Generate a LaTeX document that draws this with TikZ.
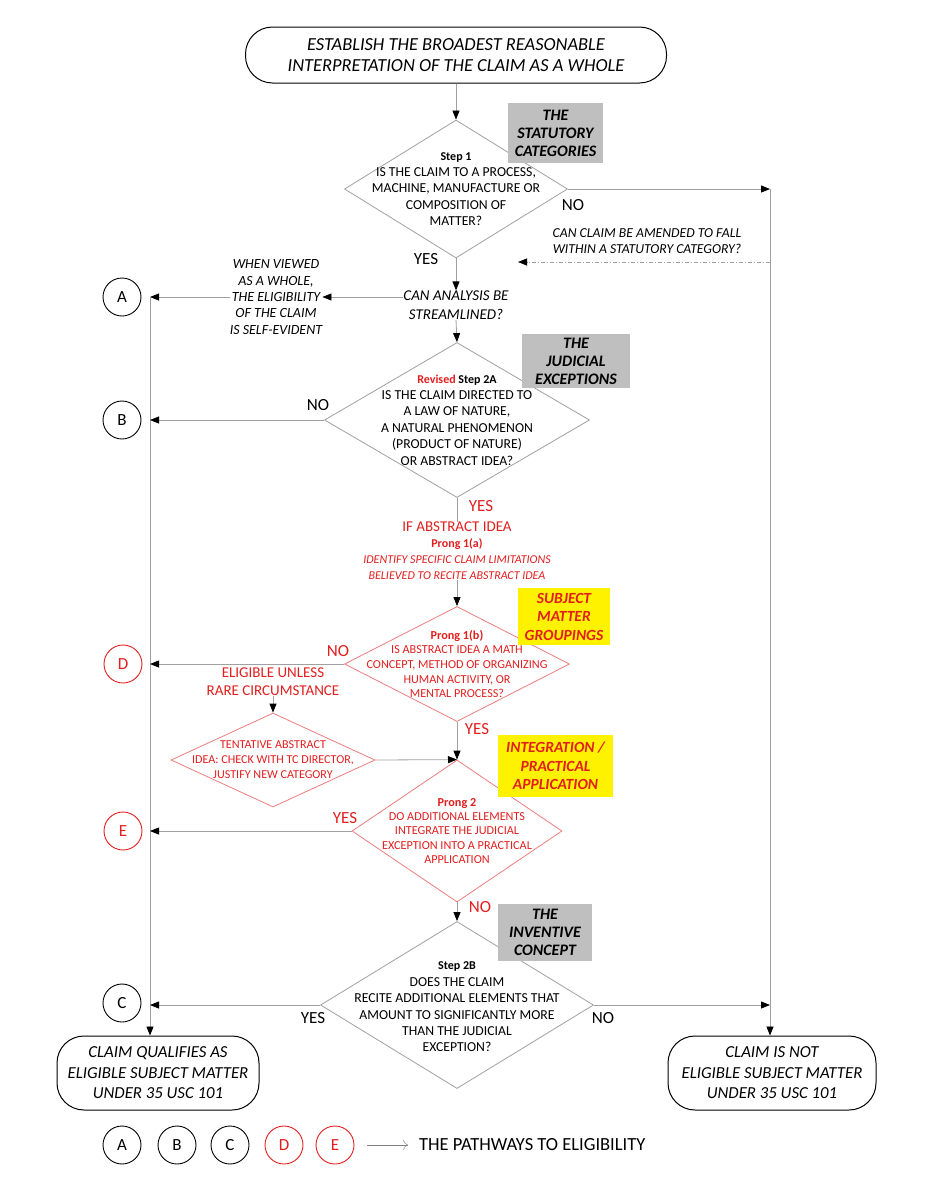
\documentclass[tikz,border=0pt]{standalone}
\usepackage{fontspec}
\setmainfont{Carlito}
\usetikzlibrary{shapes.geometric,arrows.meta,positioning}
\definecolor{redtxt}{RGB}{226,30,30}
\definecolor{redline}{RGB}{236,125,125}
\definecolor{linegray}{RGB}{160,160,160}
\definecolor{taggray}{RGB}{191,191,191}
\newcommand{\fsz}[2]{\fontsize{#1}{#2}\selectfont}
\begin{document}
\begin{tikzpicture}[x=1pt, y=-1pt,
            every node/.style = {align=center, inner sep=0pt},
            terminal/.style = {draw, line width=1pt, rounded corners=27pt},
            decision/.style = {diamond, draw=linegray, line width=0.8pt},
            reddecision/.style = {diamond, draw=redline, line width=0.8pt},
            qtext/.style = {font=\fsz{13.7}{16.4}},
            redtext/.style = {text=redtxt, font=\fsz{12.2}{14.7}},
            tag/.style = {fill=taggray, font=\fsz{16}{18}\bfseries\itshape},
            hltag/.style = {fill=yellow, text=redtxt, font=\fsz{15.5}{18.5}\bfseries\itshape},
            pathway/.style = {circle, draw, line width=0.9pt, minimum size=38pt, font=\fsz{17}{18}},
            answer/.style = {font=\fsz{17}{18}},
            flow/.style = {draw=linegray, line width=0.8pt, -{Triangle[color=black, length=9pt, width=7pt]}}]
\useasboundingbox (0,0) rectangle (927,1200);

\node[terminal, minimum width=421pt, minimum height=56pt, font=\fsz{18.4}{20.5}\itshape] (start) at (456,55)
    {ESTABLISH THE BROADEST REASONABLE\\INTERPRETATION OF THE CLAIM AS A WHOLE};

\node[decision, minimum width=223pt, minimum height=138pt] (s1) at (456,189) {};
\node[qtext] (s1t) at (s1) {{\bfseries\fsz{12}{16.4}Step 1}\\IS THE CLAIM TO A PROCESS,\\MACHINE, MANUFACTURE OR\\COMPOSITION OF\\MATTER?};
\node[tag, minimum width=95pt, minimum height=60pt] (statutory) at (555.5,133) {THE\\STATUTORY\\CATEGORIES};

\node[font=\fsz{15}{19}\itshape] (stream) at (456,305) {CAN ANALYSIS BE\\STREAMLINED?};
\node[font=\fsz{14}{16.3}\itshape] (selfev) at (276,297) {WHEN VIEWED\\AS A WHOLE,\\THE ELIGIBILITY\\OF THE CLAIM\\IS SELF-EVIDENT};

\node[decision, minimum width=265pt, minimum height=155pt] (s2a) at (457,420) {};
\node[qtext] (s2at) at (s2a) {{\bfseries\fsz{12}{16.4}\textcolor{redtxt}{Revised} Step 2A}\\IS THE CLAIM DIRECTED TO\\A LAW OF NATURE,\\A NATURAL PHENOMENON\\(PRODUCT OF NATURE)\\OR ABSTRACT IDEA?};
\node[tag, minimum width=108pt, minimum height=54pt] (judicial) at (576,361) {THE\\JUDICIAL\\EXCEPTIONS};

\node[text=redtxt, font=\fsz{12}{16}] (ifabs) at (457,551)
    {{\fontsize{15}{16}\selectfont IF ABSTRACT IDEA}\\{\bfseries Prong 1(a)}\\{\itshape IDENTIFY SPECIFIC CLAIM LIMITATIONS}\\{\itshape BELIEVED TO RECITE ABSTRACT IDEA}};

\node[reddecision, minimum width=225pt, minimum height=115pt] (p1b) at (457,664) {};
\node[redtext] (p1bt) at (p1b) {{\bfseries Prong 1(b)}\\IS ABSTRACT IDEA A MATH\\CONCEPT, METHOD OF ORGANIZING\\HUMAN ACTIVITY, OR\\MENTAL PROCESS?};
\node[hltag, minimum width=92pt, minimum height=57pt] (groupings) at (564,616.5) {SUBJECT\\MATTER\\GROUPINGS};

\node[text=redtxt, font=\fsz{15}{18}] (rare) at (273,682) {ELIGIBLE UNLESS\\RARE CIRCUMSTANCE};
\node[reddecision, minimum width=204pt, minimum height=94pt] (tent) at (273,760) {};
\node[redtext, font=\fsz{12.1}{15}] (tentt) at (tent) {TENTATIVE ABSTRACT\\IDEA: CHECK WITH TC DIRECTOR,\\JUSTIFY NEW CATEGORY};

\node[reddecision, minimum width=210pt, minimum height=142pt] (p2) at (457,831) {};
\node[redtext, font=\fsz{12.2}{14.3}] (p2t) at (p2) {{\bfseries Prong 2}\\DO ADDITIONAL ELEMENTS\\INTEGRATE THE JUDICIAL\\EXCEPTION INTO A PRACTICAL\\APPLICATION};
\node[hltag, minimum width=115pt, minimum height=62pt] (integration) at (555.5,766) {INTEGRATION /\\PRACTICAL\\APPLICATION};

\node[decision, minimum width=273pt, minimum height=167pt] (s2b) at (457,1005) {};
\node[qtext] (s2bt) at (457,1007) {{\bfseries\fsz{12}{16.4}Step 2B}\\DOES THE CLAIM\\RECITE ADDITIONAL ELEMENTS THAT\\AMOUNT TO SIGNIFICANTLY MORE\\THAN THE JUDICIAL\\EXCEPTION?};
\node[tag, minimum width=94pt, minimum height=57pt] (inventive) at (545,932.5) {THE\\INVENTIVE\\CONCEPT};

\node[terminal, minimum width=202pt, minimum height=74pt, font=\fsz{16.8}{20.5}\itshape] (eligible) at (158,1073)
    {CLAIM QUALIFIES AS\\ELIGIBLE SUBJECT MATTER\\UNDER 35 USC 101};
\node[terminal, minimum width=208pt, minimum height=74pt, font=\fsz{16.8}{20.5}\itshape] (noteligible) at (772,1073)
    {CLAIM IS NOT\\ELIGIBLE SUBJECT MATTER\\UNDER 35 USC 101};

\node[pathway] (A) at (122,297) {A};
\node[pathway] (B) at (122,420) {B};
\node[pathway, draw=redtxt, text=redtxt] (D) at (123,664) {D};
\node[pathway, draw=redtxt, text=redtxt] (E) at (123,831) {E};
\node[pathway] (C) at (122,1003) {C};

\coordinate (r1) at (770,189);
\coordinate (r2) at (770,262);
\coordinate (amend) at (518,262);
\coordinate (la) at (150,297);
\coordinate (lb) at (150,420);
\coordinate (ld) at (150,664);
\coordinate (le) at (150,831);
\coordinate (lc) at (150,1005);

\draw[flow] (start) -- (s1);
\draw[flow] (s1.east) -- (r1);
\draw[flow] (r1) -- (r1 |- noteligible.north);
\draw[flow, dash pattern=on 4pt off 2pt on 1pt off 2pt] (r2) -- (amend);
\node[font=\fsz{13.7}{16}\itshape] (amendq) at (647,241) {CAN CLAIM BE AMENDED TO FALL\\WITHIN A STATUTORY CATEGORY?};
\draw[flow] (s1.south) -- (stream.north);
\draw[flow] (stream.west |- selfev) -- (selfev.east);
\draw[flow] (selfev.west) -- (la);
\draw[flow] (la) -- (la |- eligible.north);
\draw[flow] (stream.south) -- (s2a.north);
\draw[flow] (s2a.west) -- (lb);
\draw[draw=linegray, line width=0.8pt] (s2a.south) -- (ifabs.north);
\draw[flow] (ifabs.south) -- (p1b.north);
\draw[flow] (p1b.west) -- (ld);
\draw[flow] (rare.south) -- (tent.north);
\draw[flow] (p1b.south) -- (p2.north);
\draw[flow] (tent.east) -- (p2.north);
\draw[flow] (p2.west) -- (le);
\draw[flow] (p2.south) -- (s2b.north);
\draw[flow] (s2b.west) -- (lc);
\draw[flow] (s2b.east) -- (s2b.east -| r1);

\node[answer] (no1) at (573,205) {NO};
\node[answer] (yes1) at (426,259) {YES};
\node[answer] (no2) at (318,405) {NO};
\node[answer, text=redtxt] (yes2) at (481,506) {YES};
\node[answer, text=redtxt] (no3) at (338,651) {NO};
\node[answer, text=redtxt] (yes3) at (477,729) {YES};
\node[answer, text=redtxt] (yes4) at (345,818) {YES};
\node[answer, text=redtxt] (no4) at (480,907) {NO};
\node[answer] (yes5) at (313,1018) {YES};
\node[answer] (no5) at (603,1018) {NO};

\node[pathway] (LA) at (122,1145) {A};
\node[pathway] (LB) at (177,1145) {B};
\node[pathway] (LC) at (230,1145) {C};
\node[pathway, draw=redtxt, text=redtxt] (LD) at (284,1145) {D};
\node[pathway, draw=redtxt, text=redtxt] (LE) at (335,1145) {E};
\node[anchor=west, font=\fsz{18.5}{20}] (legend) at (419,1145) {THE PATHWAYS TO ELIGIBILITY};
\draw[gray, -{To[length=5pt]}] ([xshift=13pt]LE.east) -- ([xshift=-11pt]legend.west);
\end{tikzpicture}
\end{document}
